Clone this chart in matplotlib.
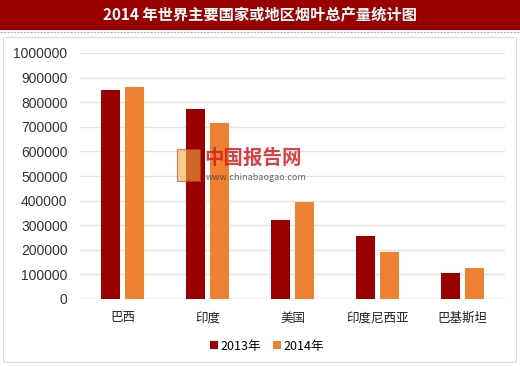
import numpy as np
import matplotlib
matplotlib.use('Agg')
import matplotlib.pyplot as plt
from matplotlib.patches import Rectangle

plt.rcParams['font.family'] = ['Noto Sans CJK SC', 'DejaVu Sans']

categories = ['巴西', '印度', '美国', '印度尼西亚', '巴基斯坦']
vals_2013 = [850000, 772000, 323000, 257000, 104000]
vals_2014 = [860000, 716000, 394000, 191000, 125000]
series_names = ['2013年', '2014年']
colors = ['#9a0000', '#ef8232']

fig = plt.figure(figsize=(5.2, 3.66), dpi=100)

# title bar
fig.patches.append(Rectangle((0, 1 - 30 / 366), 1, 30 / 366, transform=fig.transFigure,
                             facecolor='#990000', edgecolor='none', zorder=0))
fig.lines.append(plt.Line2D([0, 1], [1 - 32 / 366] * 2, transform=fig.transFigure,
                            color='#a8b8d8', lw=0.8, ls=(0, (2, 1))))
fig.text(0.5, 1 - 15 / 366, '2014 年世界主要国家或地区烟叶总产量统计图', color='white',
         fontsize=11, fontweight='bold', ha='center', va='center')
# outer frame of chart area
fig.patches.append(Rectangle((3 / 520, 4 / 366), 513 / 520, 325 / 366,
                             transform=fig.transFigure, facecolor='none',
                             edgecolor='#d9d9d9', lw=0.8))

ax = fig.add_axes([80 / 520, (366 - 299) / 366, 425 / 520, 246 / 366])
x = np.arange(len(categories))
w = 0.22
ax.bar(x - 0.145, vals_2013, w, color=colors[0], label=series_names[0], zorder=3)
ax.bar(x + 0.145, vals_2014, w, color=colors[1], label=series_names[1], zorder=3)

ax.set_xlim(-0.5, len(categories) - 0.5)
ax.set_ylim(0, 1000000)
ax.set_yticks(np.arange(0, 1000001, 100000))
ax.set_yticklabels([str(v) for v in range(0, 1000001, 100000)], fontsize=10,
                   color='#333333', family=['Liberation Sans'])
ax.set_xticks(x)
ax.set_xticklabels(categories, fontsize=9, color='#222222')
ax.tick_params(length=0)
ax.tick_params(axis='y', pad=9)
ax.tick_params(axis='x', pad=9)
ax.grid(axis='y', color='#e3e3e3', lw=1, zorder=0)
for s in ax.spines.values():
    s.set_visible(False)
ax.axhline(0, color='#d9d9d9', lw=1, zorder=2)

leg = ax.legend(loc='upper center', bbox_to_anchor=(0.44, -0.12), ncol=2, frameon=False,
                fontsize=9, handlelength=0.6, handleheight=0.6, handletextpad=0.2,
                columnspacing=1.0)

# watermark
fig.text(204 / 520, 1 - 158 / 366, '中国报告网', color='#d42020', fontsize=14,
         fontweight='bold', ha='left', va='center', alpha=0.85)
fig.text(206 / 520, 1 - 177 / 366, 'www.chinabaogao.com', color='#444444', fontsize=6.5,
         ha='left', va='center', alpha=0.8)
fig.patches.append(Rectangle((177 / 520, 1 - 181 / 366), 23 / 520, 32 / 366,
                             transform=fig.transFigure, facecolor='#f0b040',
                             edgecolor='#c83030', lw=0.8, alpha=0.6, zorder=5))

fig.savefig('out.png', dpi=100)
